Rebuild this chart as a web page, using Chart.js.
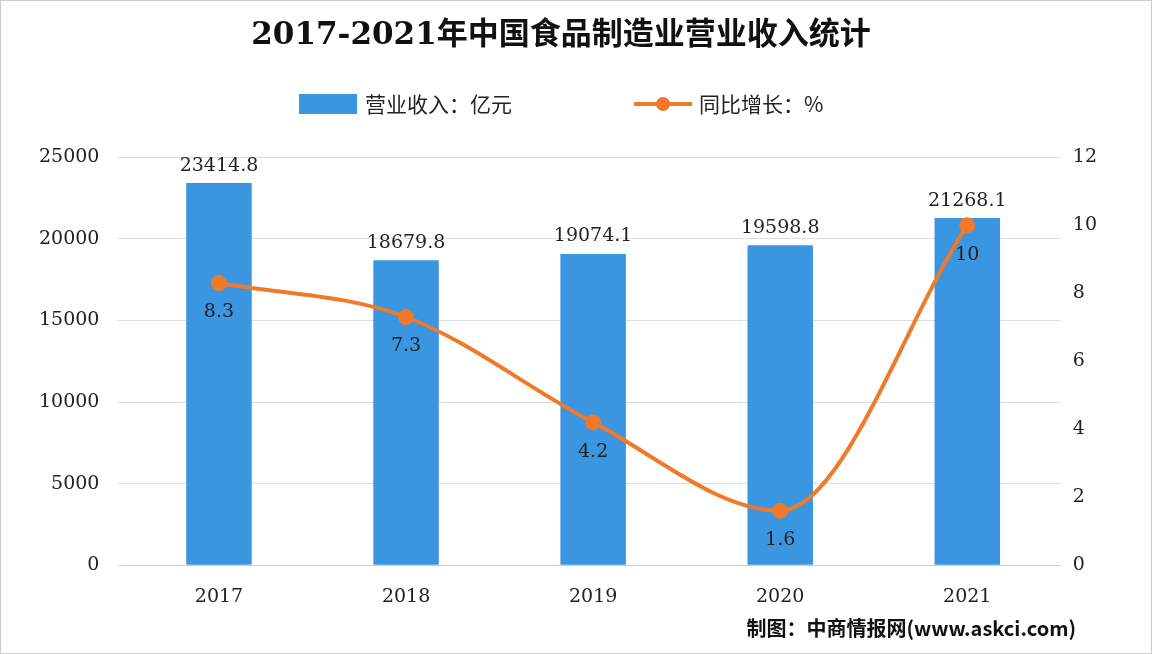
<!DOCTYPE html>
<html><head><meta charset="utf-8">
<script src="https://cdn.jsdelivr.net/npm/chart.js@4"></script>
<style>html,body{margin:0;padding:0;background:#fff;}#w{width:1152px;height:654px;position:relative;box-sizing:border-box;border:1px solid #ccc;}</style>
</head><body><div id="w"><canvas id="c" width="1150" height="652"></canvas></div>
<script>
const categories=['2017','2018','2019','2020','2021'];
const revenue=[23414.8,18679.8,19074.1,19598.8,21268.1];
const growth=[8.3,7.3,4.2,1.6,10];
const revLabels=['23414.8','18679.8','19074.1','19598.8','21268.1'];
const growthLabels=['8.3','7.3','4.2','1.6','10'];
const SERIF='"DejaVu Serif", "Noto Sans CJK SC", serif';
const BLUE='#3A96E0', ORANGE='#F07A2A';
const labelPlugin={id:'lbl',afterDatasetsDraw(ch){
  const ctx=ch.ctx;ctx.save();ctx.font='19px '+SERIF;ctx.fillStyle='#222';ctx.textAlign='center';
  ch.getDatasetMeta(0).data.forEach((b,i)=>{ctx.textBaseline='bottom';ctx.fillText(revLabels[i],b.x,b.y-8);});
  ch.getDatasetMeta(1).data.forEach((p,i)=>{ctx.textBaseline='top';ctx.fillText(growthLabels[i],p.x,p.y+20);});
  ctx.font='21px "Noto Sans CJK SC", sans-serif';ctx.textAlign='left';ctx.textBaseline='middle';
  ctx.fillStyle=BLUE;ctx.fillRect(298,93,58,20);
  ctx.fillStyle='#222';ctx.fillText('营业收入：亿元',364,103);
  ctx.strokeStyle=ORANGE;ctx.lineWidth=4;ctx.beginPath();ctx.moveTo(633,103);ctx.lineTo(691,103);ctx.stroke();
  ctx.fillStyle=ORANGE;ctx.beginPath();ctx.arc(662,103,7,0,Math.PI*2);ctx.fill();
  ctx.fillStyle='#222';ctx.fillText('同比增长：%',698,103);
  ctx.font='bold 20px "Noto Sans CJK SC", sans-serif';ctx.textAlign='right';ctx.fillStyle='#111';
  ctx.fillText('制图：中商情报网(www.askci.com)',1075,627);
  ctx.restore();}};
new Chart(document.getElementById('c'),{
  data:{labels:categories,datasets:[
    {type:'bar',label:'营业收入：亿元',data:revenue,backgroundColor:BLUE,yAxisID:'y',categoryPercentage:1,barPercentage:0.35,order:2},
    {type:'line',label:'同比增长：%',data:growth,borderColor:ORANGE,backgroundColor:ORANGE,borderWidth:4,pointRadius:6,pointBackgroundColor:ORANGE,cubicInterpolationMode:'monotone',yAxisID:'y1',order:1}
  ]},
  options:{responsive:false,animation:false,
    layout:{padding:{left:20,right:50,top:8,bottom:33}},
    plugins:{title:{display:true,text:'2017-2021年中国食品制造业营业收入统计',font:{family:SERIF,size:31,weight:'bold'},color:'#111',padding:{top:8,bottom:103}},
      legend:{display:false},tooltip:{enabled:false}},
    scales:{x:{grid:{display:false},border:{color:'#ccc'},ticks:{font:{family:SERIF,size:19},color:'#222',padding:12}},
      y:{min:0,max:25000,ticks:{stepSize:5000,callback:v=>String(v),font:{family:SERIF,size:19},color:'#222',padding:18},grid:{color:'#ddd'},border:{display:false}},
      y1:{position:'right',min:0,max:12,ticks:{stepSize:2,font:{family:SERIF,size:19},color:'#222',padding:4},grid:{display:false},border:{display:false}}}
  },plugins:[labelPlugin]});
</script></body></html>
